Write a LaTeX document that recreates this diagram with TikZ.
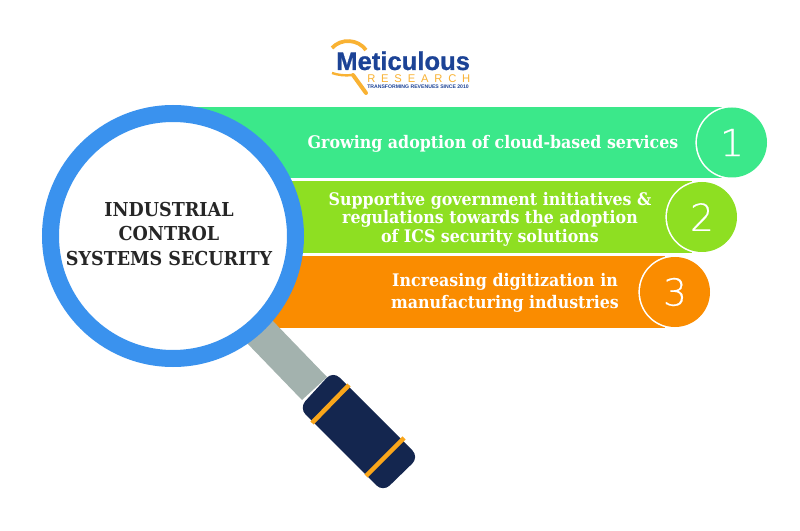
\documentclass[tikz,border=0pt]{standalone}
\usepackage{fontspec}
\setmainfont{DejaVu Serif}
\newfontfamily\slabfont[FakeStretch=0.914]{DejaVu Serif}
\newfontfamily\numfont[FakeBold=0.4]{DejaVu Sans ExtraLight}
\newfontfamily\logofont[FakeBold=0.8]{Liberation Sans}
\newfontfamily\logospaced[LetterSpace=52]{Liberation Sans}
\newfontfamily\logotag{Liberation Sans}
\definecolor{barA}{HTML}{3BE88A}
\definecolor{barB}{HTML}{8EDF22}
\definecolor{barC}{HTML}{FA8C00}
\definecolor{ringblue}{HTML}{3A92EE}
\definecolor{shaft}{HTML}{A3B2AE}
\definecolor{navy}{HTML}{14264F}
\definecolor{stripe}{HTML}{FAA61A}
\definecolor{logoblue}{HTML}{1C4396}
\definecolor{logoorange}{HTML}{F9B233}
\tikzset{
  x=0.75pt,y=-0.75pt,
  barlabel/.style={text=white,align=center,font=\slabfont\bfseries\fontsize{13}{13.9}\selectfont,inner sep=0},
  numdisc/.style={circle,minimum size=52.5pt,inner sep=0},
  numtext/.style={text=white,inner sep=0,font=\numfont\fontsize{28}{30}\selectfont},
}
\newcommand{\numberdisc}[4]{%
  \begin{scope}
    \clip (#2-40,#3-40) rectangle (#2,#3+40);
    \fill[white] (#2,#3) circle[radius=36.6];
  \end{scope}
  \node[numdisc,fill=#4] (#1) at (#2,#3) {};
}
\begin{document}
\begin{tikzpicture}
\useasboundingbox (0,0) rectangle (800,531);
\fill[white] (0,0) rectangle (800,531);
% logo
\draw[logoorange,line width=2.8pt] (332,48) .. controls (341,38) and (358,39) .. (366,50);
\draw[logoorange,line width=1.8pt] (332,73) .. controls (338,75) and (345,76) .. (352,75);
\draw[logoorange,line width=3pt,line cap=round] (353,75) -- (366,93);
\node[anchor=base west,inner sep=0,text=logoblue,font=\logofont\bfseries\fontsize{19.2}{20}\selectfont] (logoA) at (336,70) {Meticulous};
\node[anchor=base west,inner sep=0,text=logoorange,font=\logospaced\fontsize{8.4}{9}\selectfont] (logoB) at (367,83) {RESEARCH};
\node[anchor=base west,inner sep=0,text=logoblue,font=\logotag\bfseries\fontsize{3.85}{4}\selectfont] (logoC) at (367,88.8) {TRANSFORMING REVENUES SINCE 2010};
% bars
\fill[barA] (170,107) rectangle (722,178);
\fill[barB] (170,181) rectangle (692,253);
\fill[barC] (170,256) rectangle (665,328);
% handle
\fill[shaft] (270,318) -- (245,341) -- (302,400) -- (327,377) -- cycle;
\fill[navy,rounded corners=7pt] (333,371) -- (299,408) -- (383,492) -- (419,457) -- cycle;
\draw[stripe,line width=3.4pt] (349,385) -- (312,423);
\draw[stripe,line width=3.4pt] (404,438) -- (366,476);
% lens
\node[circle,draw=ringblue,fill=white,line width=12.75pt,minimum size=183.75pt,inner sep=0] (lens) at (173,236) {};
\node[align=center,inner sep=0,text=black!85,font=\slabfont\bfseries\fontsize{14.4}{18.4}\selectfont] (title) at (169,234) {INDUSTRIAL\\CONTROL\\SYSTEMS SECURITY};
% numbered discs
\numberdisc{d1}{732}{142.5}{barA}
\numberdisc{d2}{702}{217}{barB}
\numberdisc{d3}{675}{292}{barC}
\node[numtext] (n1) at (d1.center) {1};
\node[numtext] (n2) at (d2.center) {2};
\node[numtext] (n3) at (d3.center) {3};
% texts
\node[barlabel] (t1) at (493,143.5) {Growing adoption of cloud-based services};
\node[barlabel] (t2) at (490,219) {Supportive government initiatives \&\\regulations towards the adoption\\of ICS security solutions};
\node[barlabel,font=\slabfont\bfseries\fontsize{13}{16.5}\selectfont] (t3) at (505,293) {Increasing digitization in\\manufacturing industries};
\end{tikzpicture}
\end{document}
